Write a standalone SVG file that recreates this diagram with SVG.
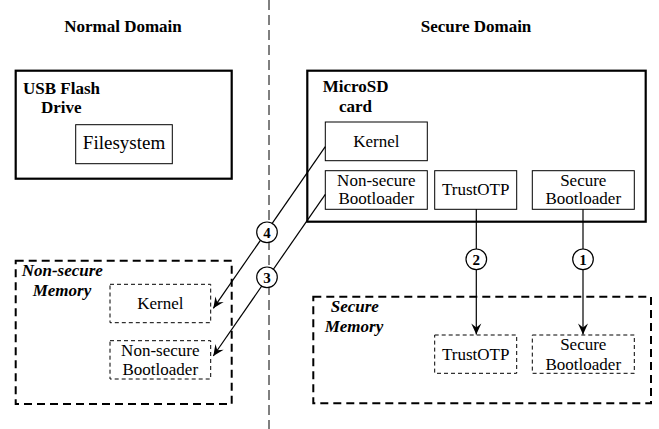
<svg xmlns="http://www.w3.org/2000/svg" width="659" height="429" viewBox="0 0 659 429">
<style>
text{font-family:'Liberation Serif','Times New Roman',Times,'DejaVu Serif',serif;fill:#000}
.title{font-size:17px;font-weight:bold;text-anchor:middle}
.lbl{font-size:17px;font-weight:bold}
.ilbl{font-size:17px;font-weight:bold;font-style:italic}
.t{font-size:17px;text-anchor:middle}
.num{font-size:15px;font-weight:bold;text-anchor:middle}
.big{fill:#fff;stroke:#000;stroke-width:2.2}
.bigd{fill:none;stroke:#000;stroke-width:2;stroke-dasharray:8 5}
.box{fill:#fff;stroke:#000;stroke-width:1}
.boxd{fill:#fff;stroke:#000;stroke-width:1;stroke-dasharray:4 3}
.conn{stroke:#000;stroke-width:1.2;fill:none}
.circ{fill:#fff;stroke:#000;stroke-width:1.2}
</style>
<defs>
<marker id="ah" viewBox="-12 -6 13 12" refX="0" refY="0" markerWidth="13" markerHeight="12" markerUnits="userSpaceOnUse" orient="auto">
<path d="M0,0 L-11,-5 L-7,0 L-11,5 Z" fill="#000"/>
</marker>
</defs>
<g font-family="Liberation Serif, Times New Roman, serif">
<line x1="269" y1="0" x2="269" y2="429" stroke="#000" stroke-width="1" stroke-dasharray="10 5"/>

<text class="title" x="123" y="32">Normal Domain</text>
<text class="title" x="476" y="32">Secure Domain</text>

<g id="usb">
<rect class="big" x="15.7" y="70.7" width="216" height="108"/>
<text class="lbl" x="23" y="94">USB Flash</text>
<text class="lbl" x="41" y="113">Drive</text>
</g>
<g id="filesystem">
<rect class="box" x="75.7" y="124.7" width="96.6" height="39"/>
<text class="t" x="124" y="149.3" style="font-size:19px">Filesystem</text>
</g>

<g id="microsd">
<rect class="big" x="307.3" y="70.7" width="338.4" height="151"/>
<text class="lbl" x="322.7" y="92.3">MicroSD</text>
<text class="lbl" x="339" y="112.3">card</text>
</g>
<g id="sd-kernel">
<rect class="box" x="325.3" y="122" width="102" height="38.7"/>
<text class="t" x="376.3" y="146.7">Kernel</text>
</g>
<g id="sd-nsboot">
<rect class="box" x="325.3" y="170.7" width="102" height="38.6"/>
<text class="t" x="376.3" y="185.7">Non-secure</text>
<text class="t" x="376.3" y="204.3">Bootloader</text>
</g>
<g id="sd-trustotp">
<rect class="box" x="434.7" y="170.7" width="82" height="38.6"/>
<text class="t" x="475.7" y="195">TrustOTP</text>
</g>
<g id="sd-sboot">
<rect class="box" x="532.3" y="170.7" width="102" height="38.6"/>
<text class="t" x="583.3" y="185.7">Secure</text>
<text class="t" x="583.3" y="204.3">Bootloader</text>
</g>

<g id="nsmem">
<rect class="bigd" x="15.7" y="260.7" width="216" height="143.3"/>
<text class="ilbl" x="21.7" y="276">Non-secure</text>
<text class="ilbl" x="32.7" y="296">Memory</text>
</g>
<g id="nsmem-kernel">
<rect class="boxd" x="110" y="284.3" width="100.7" height="38.4"/>
<text class="t" x="160.3" y="309.3">Kernel</text>
</g>
<g id="nsmem-nsboot">
<rect class="boxd" x="110" y="340.7" width="100.7" height="38.3"/>
<text class="t" x="160.3" y="355.7">Non-secure</text>
<text class="t" x="160.3" y="375">Bootloader</text>
</g>

<g id="smem">
<rect class="bigd" x="313.3" y="296.7" width="337.7" height="106.6"/>
<text class="ilbl" x="330.7" y="311.7">Secure</text>
<text class="ilbl" x="324.7" y="331.7">Memory</text>
</g>
<g id="smem-trustotp">
<rect class="boxd" x="434.7" y="335" width="82" height="38.3"/>
<text class="t" x="475.7" y="360">TrustOTP</text>
</g>
<g id="smem-sboot">
<rect class="boxd" x="532.3" y="335" width="102" height="38.3"/>
<text class="t" x="583.3" y="350">Secure</text>
<text class="t" x="583.3" y="370">Bootloader</text>
</g>

<g id="connectors">
<line class="conn" x1="583" y1="209.3" x2="583" y2="334.5" marker-end="url(#ah)"/>
<line class="conn" x1="476.3" y1="209.3" x2="476.3" y2="334.5" marker-end="url(#ah)"/>
<line class="conn" x1="325.3" y1="146.7" x2="213.3" y2="308.3" marker-end="url(#ah)"/>
<line class="conn" x1="325.3" y1="194.3" x2="213.3" y2="356" marker-end="url(#ah)"/>
<circle class="circ" cx="583" cy="259.3" r="10.3"/>
<text class="num" x="583" y="264.8">1</text>
<circle class="circ" cx="476.3" cy="259.3" r="10.3"/>
<text class="num" x="476.3" y="264.8">2</text>
<circle class="circ" cx="267" cy="277.3" r="10.3"/>
<text class="num" x="267" y="282.8">3</text>
<circle class="circ" cx="267" cy="232.3" r="10.3"/>
<text class="num" x="267" y="237.8">4</text>
</g>
</g>
</svg>
